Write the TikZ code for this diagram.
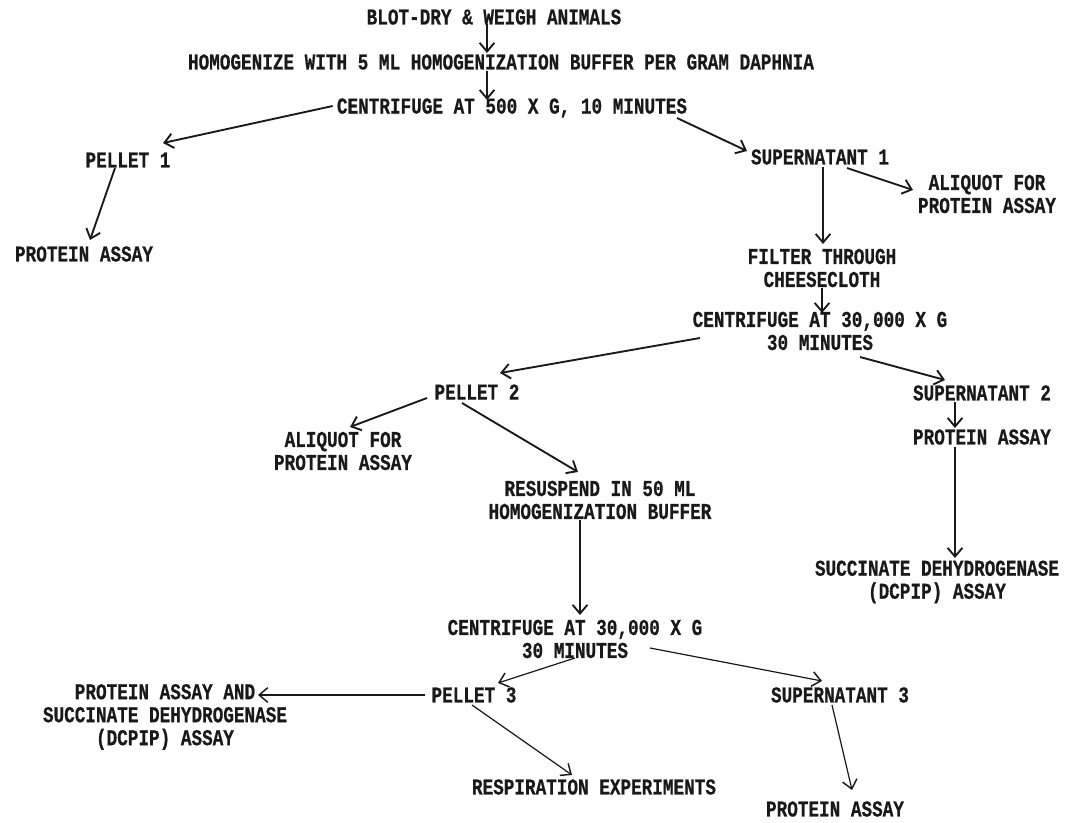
\documentclass[tikz,border=0pt]{standalone}
\usepackage{fontspec}
\usetikzlibrary{arrows.meta,calc}
\newfontfamily\tw{Liberation Mono}[FakeStretch=0.78,FakeBold=0.6]
\begin{document}
\begin{tikzpicture}[x=0.75pt,y=-0.75pt,
  txt/.style={font=\tw\bfseries\fontsize{17}{17.25}\selectfont, inner sep=0pt, align=center, text=black!90},
  con/.style={line width=1.4pt, black!90, -{Straight Barb[length=6.5pt,width=11pt,line width=1.4pt]}},
  thin/.style={line width=0.9pt, black!90, -{Straight Barb[length=6.5pt,width=11pt,line width=1.1pt]}}]
\fill[white] (0,0) rectangle (1086,823);
\useasboundingbox (0,0) rectangle (1086,823);

\node[txt] (n1) at (494,17) {BLOT-DRY \& WEIGH ANIMALS};
\node[txt] (n2) at (501,62) {HOMOGENIZE WITH 5 ML HOMOGENIZATION BUFFER PER GRAM DAPHNIA};
\node[txt] (n3) at (512,108) {CENTRIFUGE AT 500 X G, 10 MINUTES};
\node[txt] (p1) at (128,160) {PELLET 1};
\node[txt] (s1) at (820,157) {SUPERNATANT 1};
\node[txt] (a1) at (987,194) {ALIQUOT FOR\\PROTEIN ASSAY};
\node[txt] (pa1) at (84,254) {PROTEIN ASSAY};
\node[txt] (f) at (822,268) {FILTER THROUGH\\CHEESECLOTH};
\node[txt] (c2) at (820,331) {CENTRIFUGE AT 30,000 X G\\30 MINUTES};
\node[txt] (p2) at (477,392) {PELLET 2};
\node[txt] (s2) at (982,393) {SUPERNATANT 2};
\node[txt] (a2) at (343,451) {ALIQUOT FOR\\PROTEIN ASSAY};
\node[txt] (pa2) at (982,437) {PROTEIN ASSAY};
\node[txt] (r) at (600,500) {RESUSPEND IN 50 ML\\HOMOGENIZATION BUFFER};
\node[txt] (sd) at (937,582) {SUCCINATE DEHYDROGENASE\\(DCPIP) ASSAY};
\node[txt] (c3) at (575,639) {CENTRIFUGE AT 30,000 X G\\30 MINUTES};
\node[txt] (p3) at (474,695) {PELLET 3};
\node[txt] (pd) at (165,717) {PROTEIN ASSAY AND\\SUCCINATE DEHYDROGENASE\\(DCPIP) ASSAY};
\node[txt] (s3) at (840,695) {SUPERNATANT 3};
\node[txt] (resp) at (594,787) {RESPIRATION EXPERIMENTS};
\node[txt] (pa3) at (835,809) {PROTEIN ASSAY};

\draw[con] ($(n1)+(-7,7)$) -- ($(n2)+(-14,-9)$);
\draw[con] ($(n2)+(-14,9)$) -- ($(n3)+(-25,-8)$);
\draw[con] ($(n3.west)+(-4,-2)$) -- ($(p1)+(35,-17)$);
\draw[con] ($(n3)+(165,10)$) -- ($(s1)+(-73,-6)$);
\draw[con] ($(p1)+(-13,8)$) -- ($(pa1)+(6,-14)$);
\draw[con] ($(s1)+(27,11)$) -- ($(a1)+(-74,-4)$);
\draw[con] ($(s1)+(3,10)$) -- ($(f)+(1,-24)$);
\draw[con] ($(f)+(0,20)$) -- ($(c2)+(2,-18)$);
\draw[con] ($(c2)+(-120,7)$) -- ($(p2)+(23,-19)$);
\draw[con] ($(c2)+(40,26)$) -- ($(s2)+(-37,-13)$);
\draw[con] ($(p2)+(-50,6)$) -- ($(a2)+(7,-24)$);
\draw[con] ($(p2)+(-15,11)$) -- ($(r)+(-22,-28)$);
\draw[con] ($(s2)+(-27,9)$) -- ($(pa2)+(-27,-9)$);
\draw[con] ($(pa2)+(-27,10)$) -- ($(sd)+(18,-24)$);
\draw[con] ($(r)+(-20,20)$) -- ($(c3)+(5,-24)$);
\draw[thin] ($(c3)+(0,19)$) -- ($(p3)+(24,-12)$);
\draw[thin] ($(c3)+(75,9)$) -- ($(s3)+(-18,-14)$);
\draw[thin] ($(p3)+(-49,0)$) -- ($(pd)+(93,-22)$);
\draw[thin] ($(p3)+(-2,10)$) -- ($(resp)+(-22,-12)$);
\draw[thin] ($(s3)+(-8,10)$) -- ($(pa3)+(17,-19)$);
\end{tikzpicture}
\end{document}
